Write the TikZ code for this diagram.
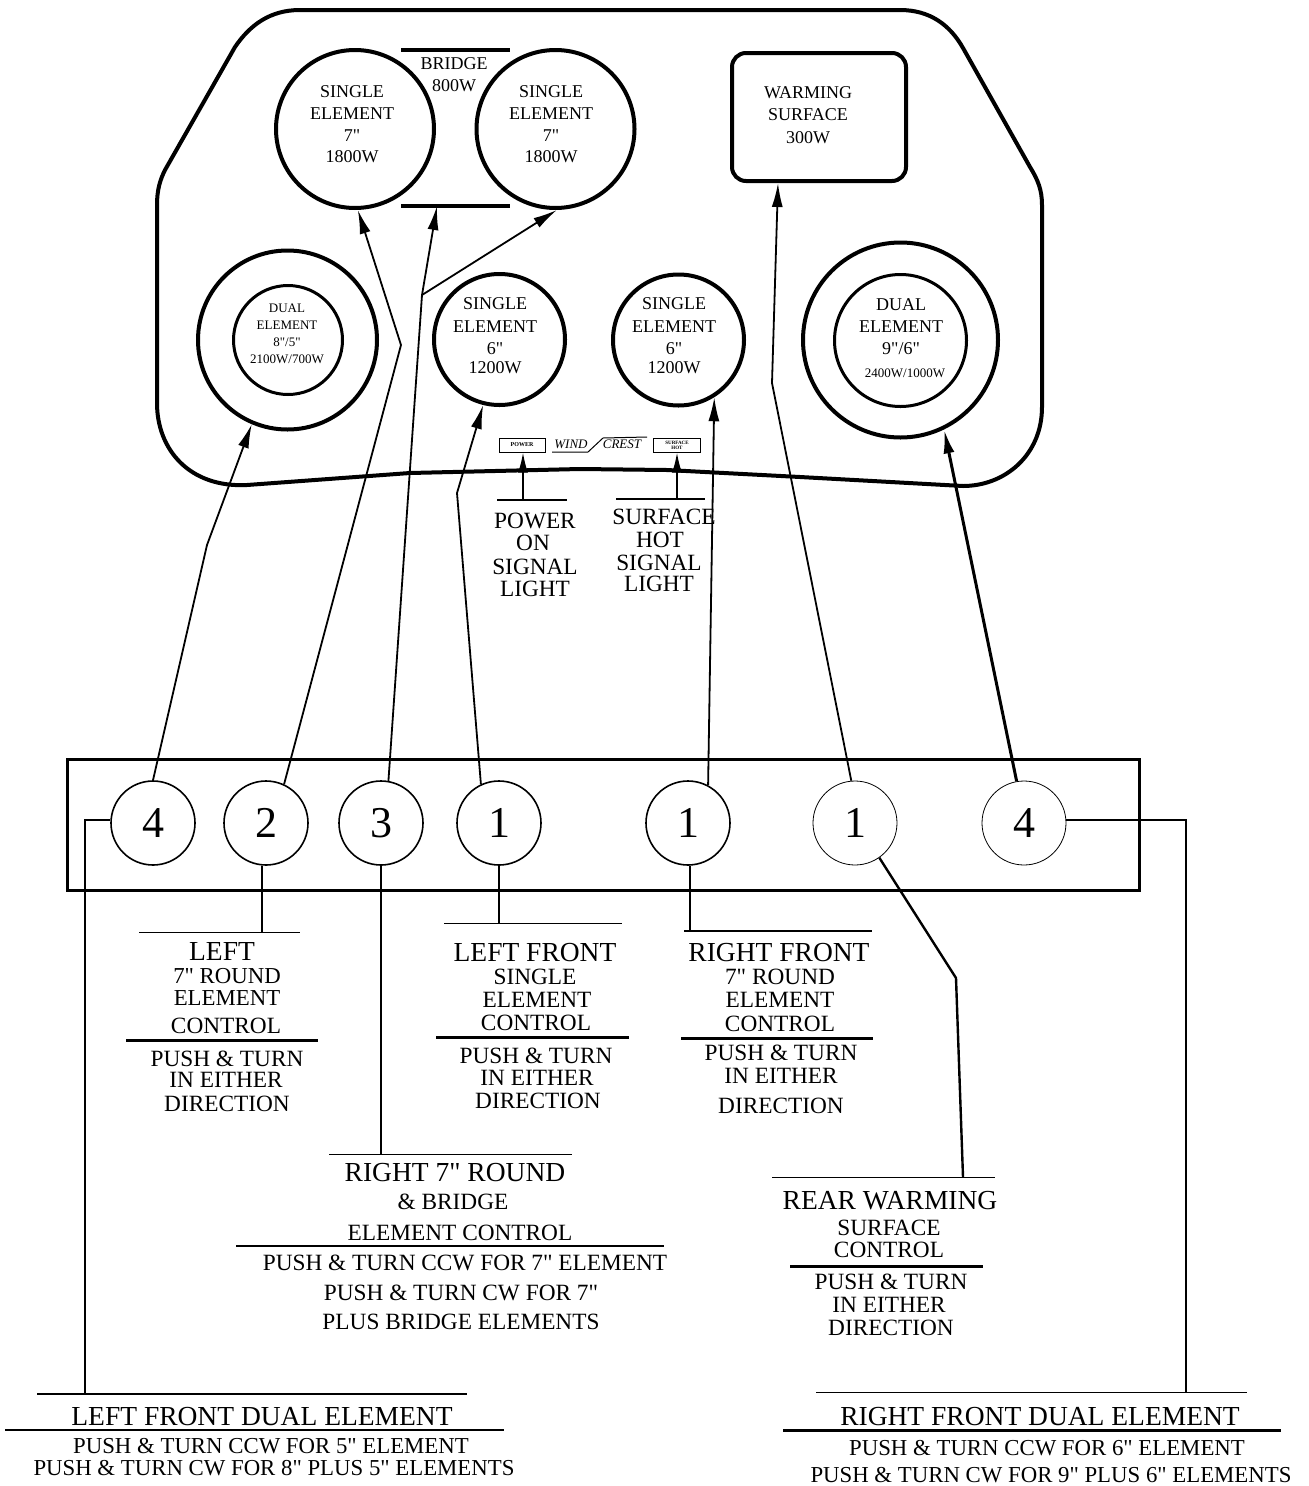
\documentclass[tikz,border=0pt]{standalone}
\usepackage{fontspec}
\setmainfont[Ligatures=TeXOff]{Liberation Serif}
\usetikzlibrary{arrows.meta,positioning}
\newcommand{\fsz}[1]{\fontsize{#1}{#1}\selectfont}
\tikzset{
  hob/.style={draw,line width=4pt,line cap=round,line join=round},
  burner/.style={circle,draw,line width=4pt,inner sep=0pt},
  knob/.style={circle,draw,line width=1.6pt,inner sep=0pt,minimum size=84pt,font=\fsz{44}},
  thinknob/.style={knob,line width=0.8pt},
  rule/.style={line width=1pt},
  barrule/.style={line width=3pt},
  lead/.style={line width=1.8pt},
  arrowlead/.style={lead,-{Latex[length=24pt,width=11pt]}},
  elemtxt/.style={align=center,inner sep=0pt,font=\fontsize{18}{22.3}\selectfont},
  dualtxt/.style={align=center,inner sep=0pt,font=\fontsize{13}{17}\selectfont},
  head/.style={inner sep=0pt,font=\fsz{27.5}},
  txt/.style={inner sep=0pt,font=\fsz{23.3}},
  smalltxt/.style={inner sep=0pt,font=\fsz{22.8}}
}
\begin{document}
\begin{tikzpicture}[x=1pt,y=-1pt]
\useasboundingbox (0,0) rectangle (1309,1486);
% cooktop outline
\draw[hob] (300,10) -- (900,10) .. controls (930,10) and (950,25) .. (963,48)
  -- (1030,167) .. controls (1038,180) and (1042,190) .. (1042,205) -- (1042,407)
  .. controls (1042,455) and (1005,486) .. (963,486) -- (800,477) -- (667,470) -- (580,469) -- (410,473) -- (247,485)
  .. controls (190,488) and (157,450) .. (157,403) -- (157,205) .. controls (157,190) and (160,180) .. (165,170)
  -- (235,47) .. controls (250,25) and (270,10) .. (300,10) -- cycle;
% elements
\node[burner,minimum size=158pt] (lseven) at (355,129) {};
\node[burner,minimum size=158pt] (rseven) at (555.5,129) {};
\node[burner,minimum size=179pt] (ldual) at (287.5,340) {};
\node[burner,minimum size=109pt,line width=3pt] (ldualin) at (288,340) {};
\node[burner,minimum size=131pt] (lsix) at (499.5,339.5) {};
\node[burner,minimum size=131pt] (rsix) at (678.5,340) {};
\node[burner,minimum size=195pt] (rdual) at (900.5,340) {};
\node[burner,minimum size=132pt,line width=3pt] (rdualin) at (900.5,340.5) {};
\node[draw,line width=4pt,rounded corners=14pt,minimum width=174pt,minimum height=128pt,inner sep=0pt] (warm) at (819,117) {};
\node[elemtxt] (lseventxt) at (352,124) {SINGLE\\ELEMENT\\7"\\[-2pt]1800W};
\node[elemtxt] (rseventxt) at (551,124) {SINGLE\\ELEMENT\\7"\\[-2pt]1800W};
\node[elemtxt] (bridgetxt) at (454,75) {BRIDGE\\800W};
\node[elemtxt] (warmtxt) at (808,115) {WARMING\\SURFACE\\300W};
\node[elemtxt] (lsixtxt) at (495,336) {SINGLE\\ELEMENT\\6"\\[-3pt]1200W};
\node[elemtxt] (rsixtxt) at (674,336) {SINGLE\\ELEMENT\\6"\\[-3pt]1200W};
\node[dualtxt] (ldualtxt) at (287,334) {DUAL\\ELEMENT\\8"/5"\\2100W/700W};
\node[elemtxt] (rdualtxt) at (901,326.5) {DUAL\\ELEMENT\\9"/6"};
\node[inner sep=0pt,font=\fsz{13}] (rdualw) at (905,373) {2400W/1000W};
\coordinate (brtopa) at (401,50); \coordinate (brtopb) at (510,50);
\coordinate (brbota) at (401,206); \coordinate (brbotb) at (510,206);
\draw[barrule,line width=4pt] (brtopa) -- (brtopb);
\draw[barrule,line width=4pt] (brbota) -- (brbotb);
% signal lights
\node[draw,line width=1pt,minimum width=46pt,minimum height=14pt,inner sep=0pt,font=\bfseries\fsz{6}] (powerbox) at (522,445) {POWER};
\node[draw,line width=1pt,minimum width=47pt,minimum height=14pt,inner sep=0pt,font=\bfseries\fontsize{5}{5}\selectfont,align=center] (hotbox) at (677,445) {SURFACE\\HOT};
\node[inner sep=0pt,font=\itshape\fsz{13}] (wind) at (571,444) {WIND};
\node[inner sep=0pt,font=\itshape\fsz{13}] (crest) at (622,444) {CREST};
\coordinate (bada) at (552,452); \coordinate (badb) at (588,452);
\coordinate (badc) at (603,438); \coordinate (badd) at (647,437);
\draw[line width=1pt] (bada) -- (badb) -- (badc) -- (badd);
\coordinate (pwra) at (497,500); \coordinate (pwrb) at (567,500);
\coordinate (hota) at (616,499); \coordinate (hotb) at (705,499);
\coordinate (pwrm) at (523,500); \coordinate (hotm) at (677,499);
\draw[lead] (pwra) -- (pwrb);
\draw[lead] (hota) -- (hotb);
\draw[lead,-{Latex[length=20pt,width=10pt]}] (pwrm) -- (powerbox.south -| pwrm);
\draw[lead,-{Latex[length=20pt,width=10pt]}] (hotm) -- (hotbox.south);
\node[txt] (pwr1) at (535,521) {POWER};
\node[txt] (pwr2) at (533,543) {ON};
\node[txt] (pwr3) at (535,567) {SIGNAL};
\node[txt] (pwr4) at (535,589) {LIGHT};
\node[txt] (hot1) at (664,517) {SURFACE};
\node[txt] (hot2) at (660,540) {HOT};
\node[txt] (hot3) at (659,563) {SIGNAL};
\node[txt] (hot4) at (659,584) {LIGHT};
% control panel
\node[draw,line width=3pt,minimum width=1072pt,minimum height=131pt,inner sep=0pt] (panel) at (603,824.5) {};
\node[knob] (kfour) at (153,823) {4};
\node[knob] (ktwo) at (266,823) {2};
\node[knob] (kthree) at (381,823) {3};
\node[knob] (kone) at (499,823) {1};
\node[knob] (koneb) at (688,823) {1};
\node[thinknob] (konec) at (855,823) {1};
\node[thinknob] (kfourb) at (1024,823) {4};
% leads to elements
\coordinate (ba) at (207,545);
\coordinate (bb) at (401,345);
\coordinate (bc) at (422,295);
\coordinate (bd) at (457,493);
\coordinate (be) at (772,383);
\draw[arrowlead] (kfour.90) -- (ba) -- (ldual.-113);
\draw[arrowlead] (ktwo.65) -- (bb) -- (lseven.-88);
\draw[arrowlead] (kthree.80) -- (bc) -- (brbota -| 437,0);
\draw[arrowlead] (bc) -- (rseven.-89);
\draw[arrowlead] (kone.115) -- (bd) -- (lsix.-104);
\draw[arrowlead] (koneb.62) -- (rsix.-58);
\draw[arrowlead] (konec.95) -- (be) -- (warm.south -| 778,0);
\draw[arrowlead,line width=3pt] (kfourb.100) -- (rdual.-64);
% left 7 inch control
\coordinate (la) at (139,932); \coordinate (lb) at (300,932); \coordinate (lm) at (262,932);
\coordinate (lc) at (126,1040); \coordinate (ld) at (318,1040);
\draw[rule] (la) -- (lb);
\draw[barrule] (lc) -- (ld);
\draw[lead] (ktwo.south -| lm) -- (lm);
\node[head] (lt1) at (222,951) {LEFT};
\node[smalltxt] (lt2) at (227,976) {7" ROUND};
\node[smalltxt] (lt3) at (227,998) {ELEMENT};
\node[txt] (lt4) at (226,1026) {CONTROL};
\node[txt] (lt5) at (227,1059) {PUSH \& TURN};
\node[txt] (lt6) at (226,1080) {IN EITHER};
\node[txt] (lt7) at (227,1104) {DIRECTION};
% left front control
\coordinate (fa) at (444,923); \coordinate (fb) at (622,923); \coordinate (fm) at (499,923);
\coordinate (fc) at (436,1037); \coordinate (fd) at (629,1037);
\draw[rule] (fa) -- (fb);
\draw[barrule] (fc) -- (fd);
\draw[lead] (kone.south) -- (fm);
\node[head] (ft1) at (535,953) {LEFT FRONT};
\node[txt] (ft2) at (535,977) {SINGLE};
\node[txt] (ft3) at (537,1000) {ELEMENT};
\node[txt] (ft4) at (536,1023) {CONTROL};
\node[txt] (ft5) at (536,1056) {PUSH \& TURN};
\node[txt] (ft6) at (537,1078) {IN EITHER};
\node[txt] (ft7) at (538,1101) {DIRECTION};
% right front control
\coordinate (ga) at (684,931); \coordinate (gb) at (872,931); \coordinate (gm) at (690,931);
\coordinate (gc) at (681,1038); \coordinate (gd) at (873,1038);
\draw[lead,line width=2pt] (ga) -- (gb);
\draw[barrule] (gc) -- (gd);
\draw[lead] (koneb.south -| gm) -- (gm);
\node[head] (gt1) at (779,953) {RIGHT FRONT};
\node[txt] (gt2) at (780,977) {7" ROUND};
\node[txt] (gt3) at (780,1000) {ELEMENT};
\node[txt] (gt4) at (780,1024) {CONTROL};
\node[txt] (gt5) at (781,1053) {PUSH \& TURN};
\node[txt] (gt6) at (781,1076) {IN EITHER};
\node[txt] (gt7) at (781,1106) {DIRECTION};
% right 7 inch and bridge control
\coordinate (ra) at (329,1154); \coordinate (rb) at (572,1154); \coordinate (rm) at (381,1154);
\coordinate (rc) at (236,1246); \coordinate (rd) at (664,1246);
\draw[rule] (ra) -- (rb);
\draw[lead,line width=2pt] (rc) -- (rd);
\draw[lead] (kthree.south) -- (rm);
\node[head] (rt1) at (455,1173) {RIGHT 7" ROUND};
\node[txt] (rt2) at (453,1202) {\& BRIDGE};
\node[txt] (rt3) at (460,1233) {ELEMENT CONTROL};
\node[txt] (rt4) at (465,1263) {PUSH \& TURN CCW FOR 7" ELEMENT};
\node[txt] (rt5) at (461,1293) {PUSH \& TURN CW FOR 7"};
\node[txt] (rt6) at (461,1322) {PLUS BRIDGE ELEMENTS};
% rear warming control
\coordinate (wa) at (772,1177); \coordinate (wb) at (995,1177); \coordinate (wm) at (963,1177);
\coordinate (wc) at (790,1266); \coordinate (wd) at (983,1266); \coordinate (we) at (956,978);
\draw[rule] (wa) -- (wb);
\draw[barrule] (wc) -- (wd);
\draw[lead,line width=2.4pt] (konec.-55) -- (we) -- (wm);
\node[head] (wt1) at (890,1201) {REAR WARMING};
\node[txt] (wt2) at (889,1228) {SURFACE};
\node[txt] (wt3) at (889,1250) {CONTROL};
\node[txt] (wt4) at (891,1282) {PUSH \& TURN};
\node[txt] (wt5) at (889,1305) {IN EITHER};
\node[txt] (wt6) at (891,1328) {DIRECTION};
% left front dual control
\coordinate (da) at (37,1394); \coordinate (db) at (467,1394); \coordinate (dm) at (85,1394);
\coordinate (dc) at (5,1430); \coordinate (dd) at (504,1430); \coordinate (de) at (85,820);
\draw[lead,line width=2pt] (da) -- (db);
\draw[lead,line width=2pt] (dc) -- (dd);
\draw[lead,line width=2.4pt] (kfour.west |- de) -- (de) -- (dm);
\node[head] (dt1) at (262,1417) {LEFT FRONT DUAL ELEMENT};
\node[smalltxt] (dt2) at (271,1446) {PUSH \& TURN CCW FOR 5" ELEMENT};
\node[smalltxt] (dt3) at (274,1468) {PUSH \& TURN CW FOR 8" PLUS 5" ELEMENTS};
% right front dual control
\coordinate (ea) at (816,1392); \coordinate (eb) at (1247,1392); \coordinate (em) at (1186,1392);
\coordinate (ec) at (783,1430); \coordinate (ed) at (1281,1430); \coordinate (ee) at (1186,820);
\draw[rule] (ea) -- (eb);
\draw[barrule] (ec) -- (ed);
\draw[lead] (kfourb.east |- ee) -- (ee) -- (em);
\node[head] (et1) at (1040,1417) {RIGHT FRONT DUAL ELEMENT};
\node[smalltxt] (et2) at (1047,1448) {PUSH \& TURN CCW FOR 6" ELEMENT};
\node[smalltxt] (et3) at (1051,1475) {PUSH \& TURN CW FOR 9" PLUS 6" ELEMENTS};
\end{tikzpicture}
\end{document}
